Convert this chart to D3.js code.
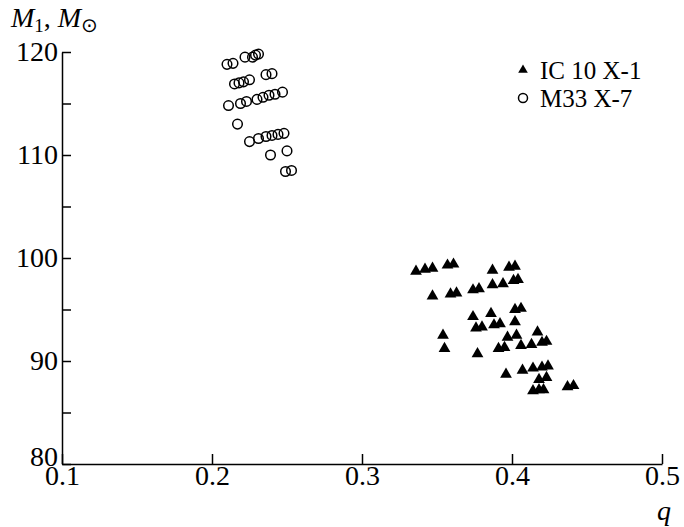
<!DOCTYPE html>
<html lang="en">
<head>
    <meta charset="UTF-8">
    <title>M1 vs q</title>
    <script src="https://d3js.org/d3.v7.min.js"></script>
    <style>
        body {
            margin: 0;
            padding: 0;
            background-color: #fff;
            overflow: hidden;
        }

        svg {
            display: block;
        }

        text {
            font-family: "Liberation Serif", "Times New Roman", serif;
            fill: #000;
        }
    </style>
</head>
<body>
    <script>
        // M33 X-7 (open circles)
        const m33Q = [0.210, 0.214, 0.222, 0.227, 0.229, 0.231,
                      0.215, 0.218, 0.221, 0.225, 0.236, 0.240,
                      0.211, 0.219, 0.223, 0.230, 0.234, 0.238, 0.242, 0.247,
                      0.217,
                      0.225, 0.231, 0.236, 0.240, 0.244, 0.248,
                      0.239, 0.250,
                      0.249, 0.253];
        const m33M = [118.8, 118.9, 119.5, 119.5, 119.7, 119.8,
                      116.9, 117.0, 117.1, 117.3, 117.8, 117.9,
                      114.8, 115.0, 115.2, 115.4, 115.6, 115.8, 115.9, 116.1,
                      113.0,
                      111.3, 111.6, 111.8, 111.9, 112.0, 112.1,
                      110.0, 110.4,
                      108.4, 108.5];

        // IC 10 X-1 (filled triangles)
        const icQ = [0.336, 0.342, 0.347, 0.357, 0.361, 0.387, 0.398, 0.402,
                     0.374, 0.378, 0.387, 0.394, 0.401, 0.404,
                     0.347, 0.359, 0.363,
                     0.402, 0.406,
                     0.374, 0.386,
                     0.388, 0.392, 0.402,
                     0.376, 0.380,
                     0.354, 0.397, 0.403, 0.417,
                     0.355, 0.391, 0.395, 0.406, 0.413, 0.420, 0.423,
                     0.377,
                     0.407, 0.414, 0.420, 0.424,
                     0.396,
                     0.418, 0.423,
                     0.414, 0.418, 0.421, 0.437, 0.441];
        const icM = [98.7, 98.9, 99.0, 99.3, 99.4, 98.8, 99.1, 99.2,
                     96.9, 97.0, 97.4, 97.5, 97.8, 97.9,
                     96.3, 96.5, 96.6,
                     95.0, 95.1,
                     94.3, 94.6,
                     93.5, 93.6, 93.8,
                     93.2, 93.3,
                     92.5, 92.3, 92.5, 92.8,
                     91.2, 91.2, 91.3, 91.5, 91.6, 91.8, 91.9,
                     90.7,
                     89.1, 89.3, 89.4, 89.5,
                     88.7,
                     88.2, 88.4,
                     87.1, 87.2, 87.2, 87.5, 87.6];

        const xTicks = [0.1, 0.2, 0.3, 0.4, 0.5];
        const yTicks = [80, 85, 90, 95, 100, 105, 110, 115, 120];
        const legendLabels = ["IC 10 X-1", "M33 X-7"];

        const width = 684, height = 527;

        const svg = d3.select("body").append("svg")
            .attr("width", width)
            .attr("height", height);

        const x = d3.scaleLinear().domain([0.1, 0.5]).range([62, 662]);
        const y = d3.scaleLinear().domain([80, 120]).range([464, 52]);

        // axes, ticks point inward
        const xAxis = svg.append("g")
            .attr("transform", `translate(0,${y(80)})`)
            .call(d3.axisBottom(x)
                .tickValues(xTicks)
                .tickSizeInner(-10)
                .tickSizeOuter(0)
                .tickPadding(1)
                .tickFormat(d3.format(".1f")));

        const yAxis = svg.append("g")
            .attr("transform", `translate(${x(0.1)},0)`)
            .call(d3.axisLeft(y)
                .tickValues(yTicks)
                .tickSizeInner(-9)
                .tickSizeOuter(0)
                .tickPadding(4)
                .tickFormat(d => d % 10 === 0 ? d : ""));

        [xAxis, yAxis].forEach(g => {
            g.select(".domain").attr("stroke-width", 1.5);
            g.selectAll(".tick line").attr("stroke-width", 1.5);
            g.selectAll(".tick text")
                .attr("font-size", 28)
                .attr("fill", "#000");
        });
        // lift the "80" off the "0.1" below it
        yAxis.selectAll(".tick text").filter(d => d === 80).attr("dy", "0.05em");

        // points
        const tri = d3.symbol().type(d3.symbolTriangle).size(60);

        svg.append("g")
            .selectAll("path")
            .data(icQ.map((q, i) => [q, icM[i]]))
            .join("path")
            .attr("d", tri)
            .attr("transform", d => `translate(${x(d[0])},${y(d[1])})`)
            .attr("fill", "#000");

        svg.append("g")
            .selectAll("circle")
            .data(m33Q.map((q, i) => [q, m33M[i]]))
            .join("circle")
            .attr("cx", d => x(d[0]))
            .attr("cy", d => y(d[1]))
            .attr("r", 4.8)
            .attr("fill", "none")
            .attr("stroke", "#000")
            .attr("stroke-width", 1.5);

        // legend
        const legend = svg.append("g").attr("transform", "translate(523,70)");
        legend.append("path")
            .attr("d", d3.symbol().type(d3.symbolTriangle).size(40))
            .attr("fill", "#000");
        legend.append("circle")
            .attr("cy", 28)
            .attr("r", 4.5)
            .attr("fill", "none")
            .attr("stroke", "#000")
            .attr("stroke-width", 1.5);
        legend.selectAll("text")
            .data(legendLabels)
            .join("text")
            .attr("x", 17)
            .attr("y", (d, i) => i * 28)
            .attr("dy", "0.35em")
            .attr("font-size", 25)
            .text(d => d);

        // axis titles
        const yTitle = svg.append("text")
            .attr("x", 11)
            .attr("y", 27)
            .attr("font-size", 28);
        yTitle.append("tspan").attr("font-style", "italic").text("M");
        yTitle.append("tspan").attr("font-size", 19).attr("dy", 5).text("1");
        yTitle.append("tspan").attr("dy", -5).text(", ");
        yTitle.append("tspan").attr("font-style", "italic").text("M");
        yTitle.append("tspan").attr("font-size", 20).attr("dy", 5).text("\u2299");

        svg.append("text")
            .attr("x", 664)
            .attr("y", 520)
            .attr("text-anchor", "middle")
            .attr("font-size", 28)
            .attr("font-style", "italic")
            .text("q");
    </script>
</body>
</html>
